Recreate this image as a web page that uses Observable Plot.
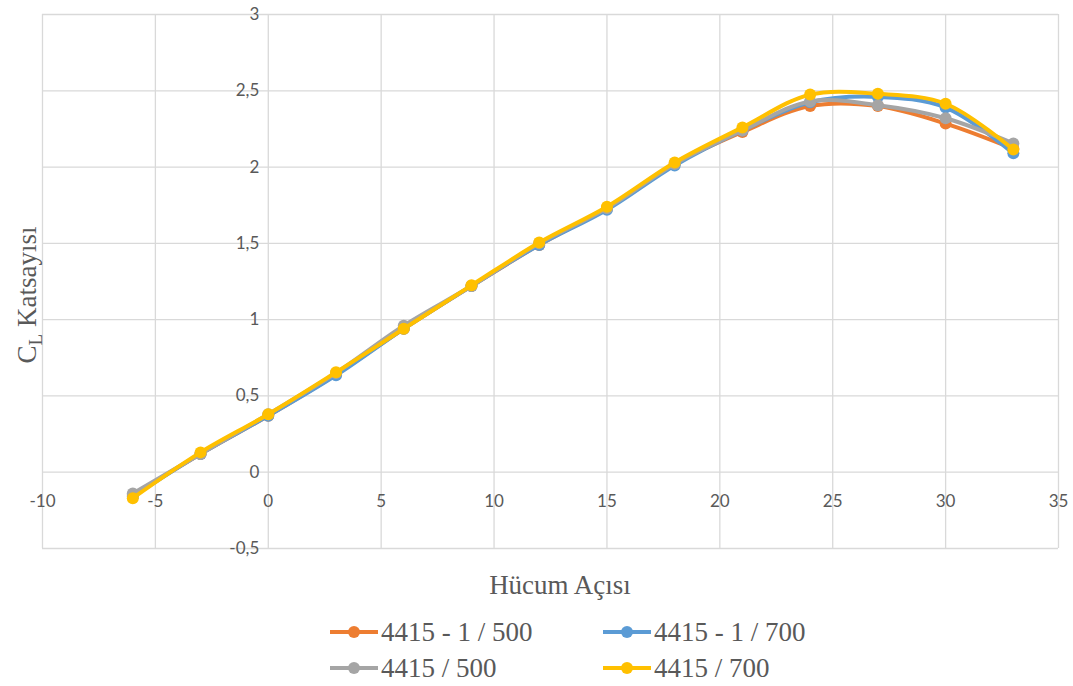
<!DOCTYPE html>
<html>
<head>
<meta charset="utf-8">
<script src="https://cdn.jsdelivr.net/npm/d3@7"></script>
<script src="https://cdn.jsdelivr.net/npm/@observablehq/plot@0.6"></script>
<style>
  html, body { margin: 0; padding: 0; background: #fff; }
  #wrap { position: relative; width: 1073px; height: 686px; overflow: hidden; }
  #chart { position: absolute; left: 0; top: 0; }
  .serif { font-family: "Liberation Serif", "DejaVu Serif", serif; color: #595959; }
  #xtitle { position: absolute; left: 0; width: 1120px; top: 570px; text-align: center; font-size: 27px; }
  #legend { position: absolute; left: 330px; top: 614px; }
  .row { display: flex; height: 36px; align-items: center; }
  .item { display: flex; align-items: center; width: 273px; font-size: 27px; white-space: nowrap; }
  .item svg { margin-right: 3px; }
</style>
</head>
<body>
<div id="wrap">
  <div id="chart"></div>
  <div id="xtitle" class="serif">Hücum Açısı</div>
  <div id="legend" class="serif"></div>
</div>
<script>
// ---- data ----
const angles = [-6, -3, 0, 3, 6, 9, 12, 15, 18, 21, 24, 27, 30, 33];
const seriesNames = ["4415 - 1 / 500", "4415 - 1 / 700", "4415 / 500", "4415 / 700"];
const seriesColors = ["#ED7D31", "#5B9BD5", "#A5A5A5", "#FFC000"];
const cl_4415_1_500 = [-0.15, 0.12, 0.37, 0.64, 0.94, 1.22, 1.49, 1.73, 2.02, 2.23, 2.40, 2.40, 2.285, 2.12];
const cl_4415_1_700 = [-0.16, 0.12, 0.37, 0.635, 0.94, 1.22, 1.49, 1.72, 2.01, 2.24, 2.425, 2.46, 2.39, 2.09];
const cl_4415_500   = [-0.14, 0.12, 0.38, 0.65, 0.96, 1.22, 1.50, 1.73, 2.02, 2.24, 2.43, 2.405, 2.32, 2.155];
const cl_4415_700   = [-0.17, 0.13, 0.38, 0.655, 0.94, 1.225, 1.505, 1.74, 2.03, 2.26, 2.475, 2.48, 2.415, 2.115];
const xTicks = [-10, -5, 0, 5, 10, 15, 20, 25, 30, 35];
const xTickLabels = ["-10", "-5", "0", "5", "10", "15", "20", "25", "30", "35"];
const yTicks = [-0.5, 0, 0.5, 1, 1.5, 2, 2.5, 3];
const yTickLabels = ["-0,5", "0", "0,5", "1", "1,5", "2", "2,5", "3"];

const allSeries = [cl_4415_1_500, cl_4415_1_700, cl_4415_500, cl_4415_700];
const table = allSeries.map((vals, i) => vals.map((v, j) => ({x: angles[j], y: v, s: seriesNames[i]})));

const lineMarks = [];
table.forEach((rows, i) => {
  lineMarks.push(Plot.line(rows, {x: "x", y: "y", stroke: seriesColors[i], strokeWidth: 4, curve: "catmull-rom"}));
  lineMarks.push(Plot.dot(rows, {x: "x", y: "y", fill: seriesColors[i], r: 6}));
});

const tickFont = "Lato, 'Liberation Sans', sans-serif";
const plot = Plot.plot({
  width: 1073,
  height: 560,
  marginLeft: 42,
  marginRight: 15,
  marginTop: 14,
  marginBottom: 12,
  x: {domain: [-10, 35], axis: null},
  y: {domain: [-0.5, 3], axis: null},
  style: {background: "#fff"},
  marks: [
    Plot.ruleX(xTicks, {stroke: "#d9d9d9", strokeWidth: 1.3}),
    Plot.ruleY(yTicks, {stroke: "#d9d9d9", strokeWidth: 1.3}),
    Plot.text(xTicks, {x: d => d, y: 0, text: (d, i) => xTickLabels[i], dy: 29, fill: "#595959", fontSize: 17, fontFamily: tickFont}),
    Plot.text(yTicks, {x: 0, y: d => d, text: (d, i) => yTickLabels[i], textAnchor: "end", dx: -9, fill: "#595959", fontSize: 17, fontFamily: tickFont}),
    ...lineMarks
  ]
});
document.getElementById("chart").appendChild(plot);

// y axis title with subscript
const svg = d3.select(plot);
const yt = svg.append("text")
  .attr("transform", "translate(36,295) rotate(-90)")
  .attr("text-anchor", "middle")
  .attr("fill", "#595959")
  .attr("font-family", "'Liberation Serif', serif")
  .attr("font-size", 27);
yt.append("tspan").text("C");
yt.append("tspan").attr("font-size", 19).attr("dy", 6).text("L");
yt.append("tspan").attr("dy", -6).text(" Katsayısı");

// legend
const legend = document.getElementById("legend");
const order = [[0, 1], [2, 3]];
order.forEach(r => {
  const row = document.createElement("div");
  row.className = "row";
  r.forEach(i => {
    const item = document.createElement("div");
    item.className = "item";
    item.innerHTML = `<svg width="48" height="14"><line x1="0" y1="7" x2="48" y2="7" stroke="${seriesColors[i]}" stroke-width="4"/><circle cx="24" cy="7" r="6" fill="${seriesColors[i]}"/></svg><span>${seriesNames[i]}</span>`;
    row.appendChild(item);
  });
  legend.appendChild(row);
});
</script>
</body>
</html>
